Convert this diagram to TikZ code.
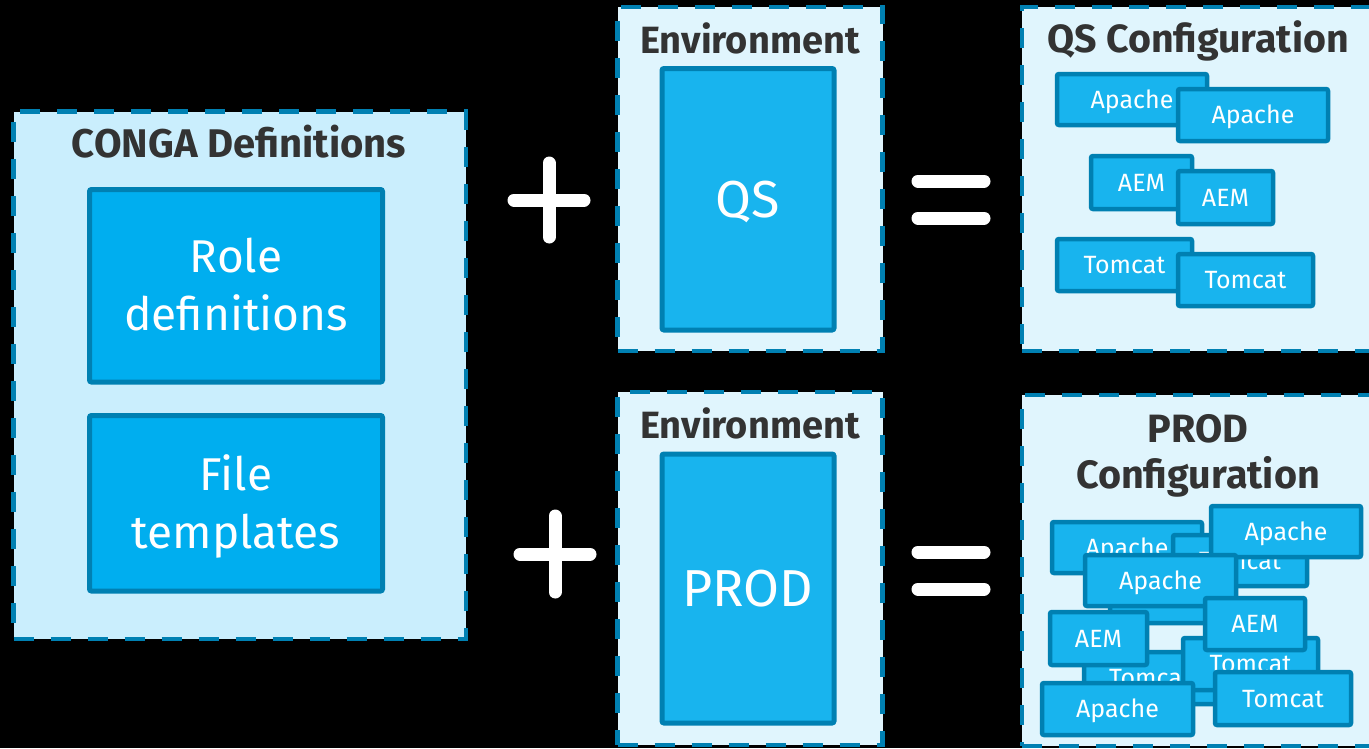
\documentclass[tikz,border=0pt]{standalone}
\usepackage{fontspec}
\setmainfont{Fira Sans}
\definecolor{bord}{RGB}{0,128,178}
\definecolor{bigfill}{RGB}{0,174,239}
\definecolor{smfill}{RGB}{24,180,238}
\definecolor{congafill}{RGB}{202,238,253}
\definecolor{envfill}{RGB}{224,245,253}
\definecolor{titlegray}{RGB}{51,51,51}
\tikzset{
  outerbox/.style={draw=bord, line width=4.5pt, dash pattern=on 20pt off 17pt, inner sep=0pt},
  titletext/.style={text=titlegray, font=\fontsize{38}{46}\selectfont\bfseries, inner sep=0pt, align=center},
  bigbox/.style={draw=bord, line width=5pt, rounded corners=2pt, text=white, inner sep=0pt, align=center},
  smallbox/.style={draw=bord, fill=smfill, line width=4.5pt, rounded corners=2pt, text=white,
    font=\fontsize{25}{30}\selectfont, inner sep=0pt, text height=17.3pt, text depth=0pt},
  sign/.style={draw=white, line width=13pt, line cap=round}
}
\begin{document}
\begin{tikzpicture}[x=1pt,y=-1pt]
\path[use as bounding box] (0,0) rectangle (1369,748);
\clip (0,0) rectangle (1369,748);
\fill[black] (0,0) rectangle (1369,748);

% CONGA definitions
\node[outerbox, fill=congafill, minimum width=452.5pt, minimum height=527.5pt] (conga) at (239.75,375.25) {};
\node[titletext, font=\fontsize{40}{46}\selectfont\bfseries, anchor=base] (congaT) at (239,157) {CONGA Definitions};
\node[bigbox, fill=bigfill, minimum width=293pt, minimum height=192.5pt,
  font=\fontsize{46}{58}\selectfont, text height=89.7pt, text depth=0pt] (role) at (236,285.75) {Role\\definitions};
\node[bigbox, fill=bigfill, minimum width=293pt, minimum height=175.5pt,
  font=\fontsize{46}{58}\selectfont, text height=89.7pt, text depth=0pt] (file) at (236,503.25) {File\\templates};

% plus signs
\coordinate (p1) at (549,200);
\coordinate (p2) at (555,554);
\draw[sign] ([xshift=-35pt]p1) -- ([xshift=35pt]p1);
\draw[sign] ([yshift=-37pt]p1) -- ([yshift=37pt]p1);
\draw[sign] ([xshift=-35pt]p2) -- ([xshift=35pt]p2);
\draw[sign] ([yshift=-38pt]p2) -- ([yshift=38pt]p2);

% environments
\node[outerbox, fill=envfill, minimum width=265pt, minimum height=344pt] (envq) at (750,179) {};
\node[titletext, anchor=base] (envqT) at (750,53) {Environment};
\node[bigbox, fill=smfill, minimum width=172pt, minimum height=261.5pt,
  font=\fontsize{52}{60}\selectfont, text height=35.8pt, text depth=0pt] (qs) at (748,199.25) {QS};
\node[outerbox, fill=envfill, minimum width=265pt, minimum height=353pt] (envp) at (750,568.5) {};
\node[titletext, anchor=base] (envpT) at (750,438) {Environment};
\node[bigbox, fill=smfill, minimum width=172pt, minimum height=269pt,
  font=\fontsize{52}{60}\selectfont, text height=35.8pt, text depth=0pt] (prod) at (748,588.5) {PROD};

% equals signs
\coordinate (e1) at (951,200);
\coordinate (e2) at (951,571);
\draw[sign] ([xshift=-33pt,yshift=-18pt]e1) -- ([xshift=33pt,yshift=-18pt]e1);
\draw[sign] ([xshift=-33pt,yshift=19pt]e1) -- ([xshift=33pt,yshift=19pt]e1);
\draw[sign] ([xshift=-33pt,yshift=-18pt]e2) -- ([xshift=33pt,yshift=-18pt]e2);
\draw[sign] ([xshift=-33pt,yshift=19pt]e2) -- ([xshift=33pt,yshift=19pt]e2);

% QS configuration
\node[outerbox, fill=envfill, minimum width=354pt, minimum height=344pt] (qsc) at (1199,179) {};
\node[titletext, font=\fontsize{39.3}{46}\selectfont\bfseries, anchor=base] (qscT) at (1198,52) {QS Configuration};
\node[smallbox, minimum width=150pt, minimum height=51pt] (qa1) at (1132,99.5) {Apache};
\node[smallbox, minimum width=150pt, minimum height=52pt] (qa2) at (1253,115) {Apache};
\node[smallbox, minimum width=101pt, minimum height=53pt] (qe1) at (1141.5,182.5) {AEM};
\node[smallbox, minimum width=95pt, minimum height=53pt] (qe2) at (1225.5,197.5) {AEM};
\node[smallbox, minimum width=135pt, minimum height=52pt] (qt1) at (1124.5,265) {Tomcat};
\node[smallbox, minimum width=135pt, minimum height=52pt] (qt2) at (1245.5,280) {Tomcat};

% PROD configuration
\node[outerbox, fill=envfill, minimum width=354pt, minimum height=351pt] (pc) at (1199,570.5) {};
\node[titletext, font=\fontsize{39.5}{46}\selectfont\bfseries, text height=73.2pt, text depth=0pt] (pcT) at (1198,451.5) {PROD\\Configuration};
\node[smallbox, minimum width=150pt, minimum height=51pt] (pa) at (1127,547.5) {Apache};
\node[smallbox, minimum width=134pt, minimum height=51pt] (pb) at (1240,560.5) {Tomcat};
\node[smallbox, minimum width=150pt, minimum height=51pt] (pcc) at (1286,531.5) {Apache};
\node[smallbox, minimum width=118pt, minimum height=51pt] (px) at (1169,597.5) {};
\node[smallbox, minimum width=151pt, minimum height=51pt] (pd) at (1160.5,580.5) {Apache};
\node[smallbox, minimum width=132pt, minimum height=52pt] (ph) at (1150,678) {Tomcat};
\node[smallbox, minimum width=135pt, minimum height=52pt] (pf) at (1250.5,664) {Tomcat};
\node[smallbox, minimum width=100pt, minimum height=52pt] (pe) at (1255,624) {AEM};
\node[smallbox, minimum width=97pt, minimum height=53pt] (pi) at (1098.5,638.5) {AEM};
\node[smallbox, minimum width=151pt, minimum height=52pt] (pj) at (1117.5,709) {Apache};
\node[smallbox, minimum width=136pt, minimum height=53pt] (pk) at (1283,698.5) {Tomcat};
\end{tikzpicture}
\end{document}
